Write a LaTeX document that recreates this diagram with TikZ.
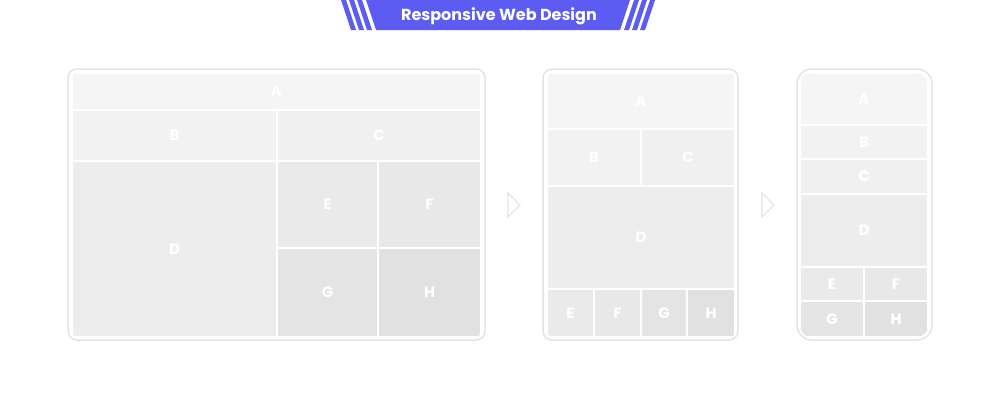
\documentclass[tikz,border=0pt]{standalone}
\usepackage{fontspec}
\setmainfont{Poppins}
\usepackage{xcolor}
\usepackage{tikz}
\definecolor{banner}{RGB}{92,92,242}
\definecolor{framegray}{RGB}{228,228,228}
\definecolor{cA}{RGB}{245,245,245}
\definecolor{cB}{RGB}{242,242,242}
\definecolor{cC}{RGB}{240,240,240}
\definecolor{cD}{RGB}{237,237,237}
\definecolor{cE}{RGB}{234,234,234}
\definecolor{cF}{RGB}{232,232,232}
\definecolor{cG}{RGB}{228,228,228}
\definecolor{cH}{RGB}{225,225,225}
\tikzset{
 screen/.style={draw=framegray, line width=1.5pt, fill=white},
 cell/.style={draw=white, line width=2pt},
 letter/.style={text=white, inner sep=0pt, font=\bfseries\fontsize{15}{15}\selectfont},
 title/.style={text=white, inner sep=0pt, font=\bfseries\fontsize{16}{16}\selectfont},
 nextmark/.style={draw=framegray, line width=1.2pt}
}

\begin{document}
\begin{tikzpicture}[x=1pt,y=-1pt]
\useasboundingbox (0,0) rectangle (1000,410);
\fill[banner] (366,0) -- (630,0) -- (620,30) -- (376,30) -- cycle;
\foreach \s in {341,349,357} \fill[banner] (\s,0) -- ++(5,0) -- ++(10,30) -- ++(-5,0) -- cycle;
\foreach \s in {634,642,650} \fill[banner] (\s,0) -- ++(5,0) -- ++(-10,30) -- ++(-5,0) -- cycle;
\node[title] (title) at (499,16) {Responsive Web Design};

\draw[screen, rounded corners=9pt] (68,69) rectangle (485,340);
\begin{scope}
\clip[rounded corners=6pt] (72,73) rectangle (481,337);
\foreach \n/\xa/\ya/\xb/\yb in {A/72/73/481/110, B/72/110/277/161, C/277/110/481/161, D/72/161/277/337,
 E/277/161/378/248, F/378/161/481/248, G/277/248/378/337, H/378/248/481/337} {
 \draw[cell, fill=c\n] (\xa,\ya) rectangle (\xb,\yb);
 \node[letter] (d\n) at ({(\xa+\xb)/2},{(\ya+\yb)/2}) {\n};
}
\end{scope}

\draw[nextmark] (508,193) -- (520,205) -- (508,217) -- cycle;

\draw[screen, rounded corners=9pt] (543,69) rectangle (738,340);
\begin{scope}
\clip[rounded corners=6pt] (547,73) rectangle (735,337);
\foreach \n/\xa/\ya/\xb/\yb in {A/547/73/735/129, B/547/129/641/186, C/641/129/735/186, D/547/186/735/289,
 E/547/289/594/337, F/594/289/641/337, G/641/289/687/337, H/687/289/735/337} {
 \draw[cell, fill=c\n] (\xa,\ya) rectangle (\xb,\yb);
 \node[letter] (t\n) at ({(\xa+\xb)/2},{(\ya+\yb)/2}) {\n};
}
\end{scope}

\draw[nextmark] (762,193) -- (774,205) -- (762,217) -- cycle;

\draw[screen, rounded corners=15pt] (797,69) rectangle (932,340);
\begin{scope}
\clip[rounded corners=11pt] (800,73) rectangle (928,337);
\foreach \n/\xa/\ya/\xb/\yb in {A/800/73/928/125, B/800/125/928/159, C/800/159/928/194, D/800/194/928/267,
 E/800/267/864/301, F/864/267/928/301, G/800/301/864/337, H/864/301/928/337} {
 \draw[cell, fill=c\n] (\xa,\ya) rectangle (\xb,\yb);
 \node[letter] (p\n) at ({(\xa+\xb)/2},{(\ya+\yb)/2}) {\n};
}
\end{scope}
\end{tikzpicture}
\end{document}
